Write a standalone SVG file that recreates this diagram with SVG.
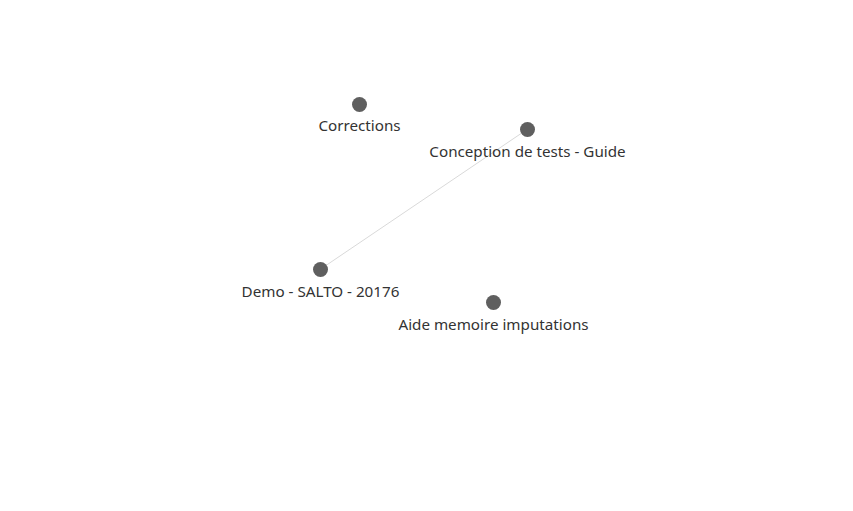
<svg xmlns="http://www.w3.org/2000/svg" width="853" height="511" viewBox="0 0 853 511">
<style>
.n{fill:#5f5f5f}
.t{font-family:"Noto Sans","Open Sans",sans-serif;font-size:15.2px;fill:#333;text-anchor:middle}
.e{stroke:#d9d9d9;stroke-width:1;fill:none}
</style>
<rect width="853" height="511" fill="#fff"/>
<g id="connectors"><line class="e" x1="320" y1="269.5" x2="527" y2="129.5"/></g>
<g id="n1"><circle class="n" cx="359.5" cy="104.5" r="7.5"/><text class="t" x="359.5" y="130.5">Corrections</text></g>
<g id="n2"><circle class="n" cx="527.5" cy="129.5" r="7.5"/><text class="t" x="527.5" y="156.5">Conception de tests - Guide</text></g>
<g id="n3"><circle class="n" cx="320.5" cy="269.5" r="7.5"/><text class="t" x="320.5" y="296.5">Demo - SALTO - 20176</text></g>
<g id="n4"><circle class="n" cx="493.5" cy="302.5" r="7.5"/><text class="t" x="493.5" y="329.5">Aide memoire imputations</text></g>
</svg>
